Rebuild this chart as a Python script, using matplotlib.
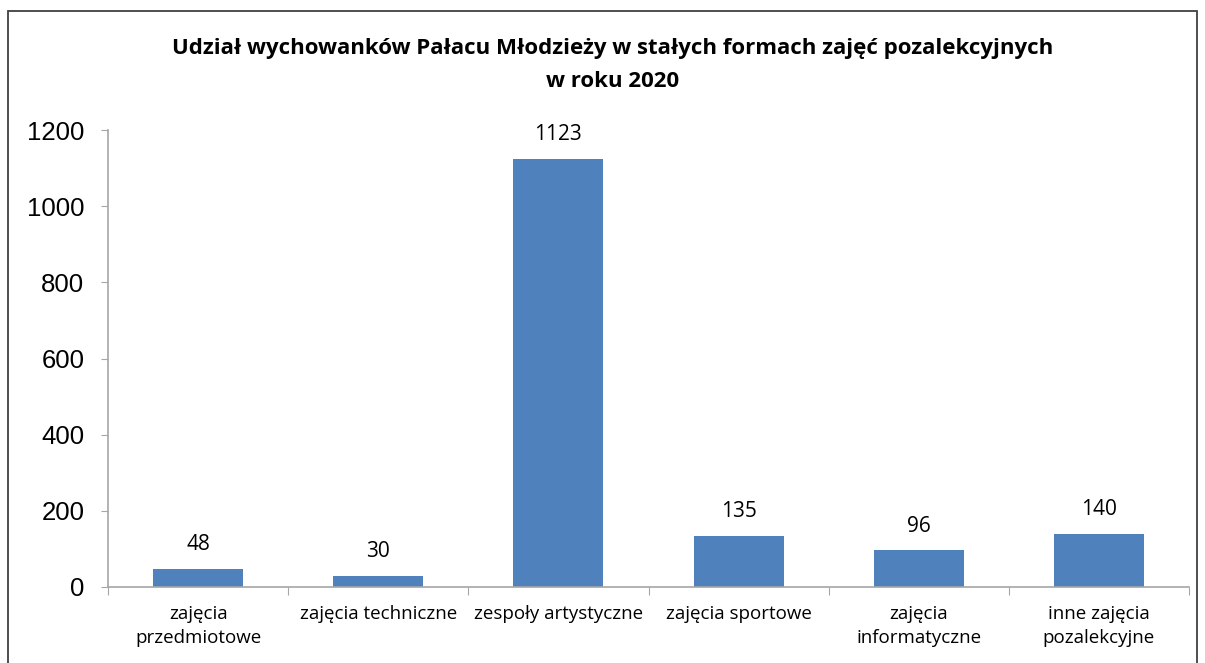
import matplotlib.pyplot as plt
from matplotlib.patches import Rectangle

categories = ["zajęcia\nprzedmiotowe", "zajęcia techniczne", "zespoły artystyczne",
              "zajęcia sportowe", "zajęcia\ninformatyczne", "inne zajęcia\npozalekcyjne"]
values = [48, 30, 1123, 135, 96, 140]
yticks = [0, 200, 400, 600, 800, 1000, 1200]

W, H = 1205, 663
fig = plt.figure(figsize=(W / 100, H / 100), dpi=100)

# frame around the whole chart
fig.patches.append(Rectangle((8 / W, -0.01), (1197 - 8) / W, 1 - 11 / H + 0.01,
                             transform=fig.transFigure, fill=False,
                             edgecolor="#404040", linewidth=1.3))

ax = fig.add_axes([108 / W, 1 - 587 / H, (1189 - 108) / W, (587 - 130) / H])
x = range(len(values))
ax.bar(x, values, width=0.5, color="#4F81BD")
ax.set_xlim(-0.5, len(values) - 0.5)
ax.set_ylim(0, 1200)

for i, v in enumerate(values):
    ax.annotate(str(v), (i, v), xytext=(0, 10), textcoords="offset points",
                ha="center", va="bottom", fontsize=15, family="Open Sans")

ax.set_yticks(yticks)
ax.set_yticklabels([str(t) for t in yticks], fontsize=18.5, family="Liberation Sans")
ax.tick_params(axis="y", length=5, color="#A6A6A6", pad=12)

ax.set_xticks([i + 0.5 for i in range(-1, len(values))], minor=False)
ax.set_xticklabels([])
ax.tick_params(axis="x", length=6, color="#A6A6A6", direction="out")
ax.set_xticks(list(x), minor=True)
ax.set_xticklabels(categories, minor=True, fontsize=13.5, family="Open Sans",
                   linespacing=1.4)
ax.tick_params(axis="x", which="minor", length=0, pad=13)

for s in ["top", "right"]:
    ax.spines[s].set_visible(False)
for s in ["left", "bottom"]:
    ax.spines[s].set_color("#A6A6A6")
    ax.spines[s].set_linewidth(1.2)

fig.text(613 / W, 1 - 65 / H,
         "Udział wychowanków Pałacu Młodzieży w stałych formach zajęć pozalekcyjnych\nw roku 2020",
         ha="center", va="center", fontsize=16, fontweight="bold", family="Open Sans",
         linespacing=1.8)

fig.savefig("out.png", dpi=100)
